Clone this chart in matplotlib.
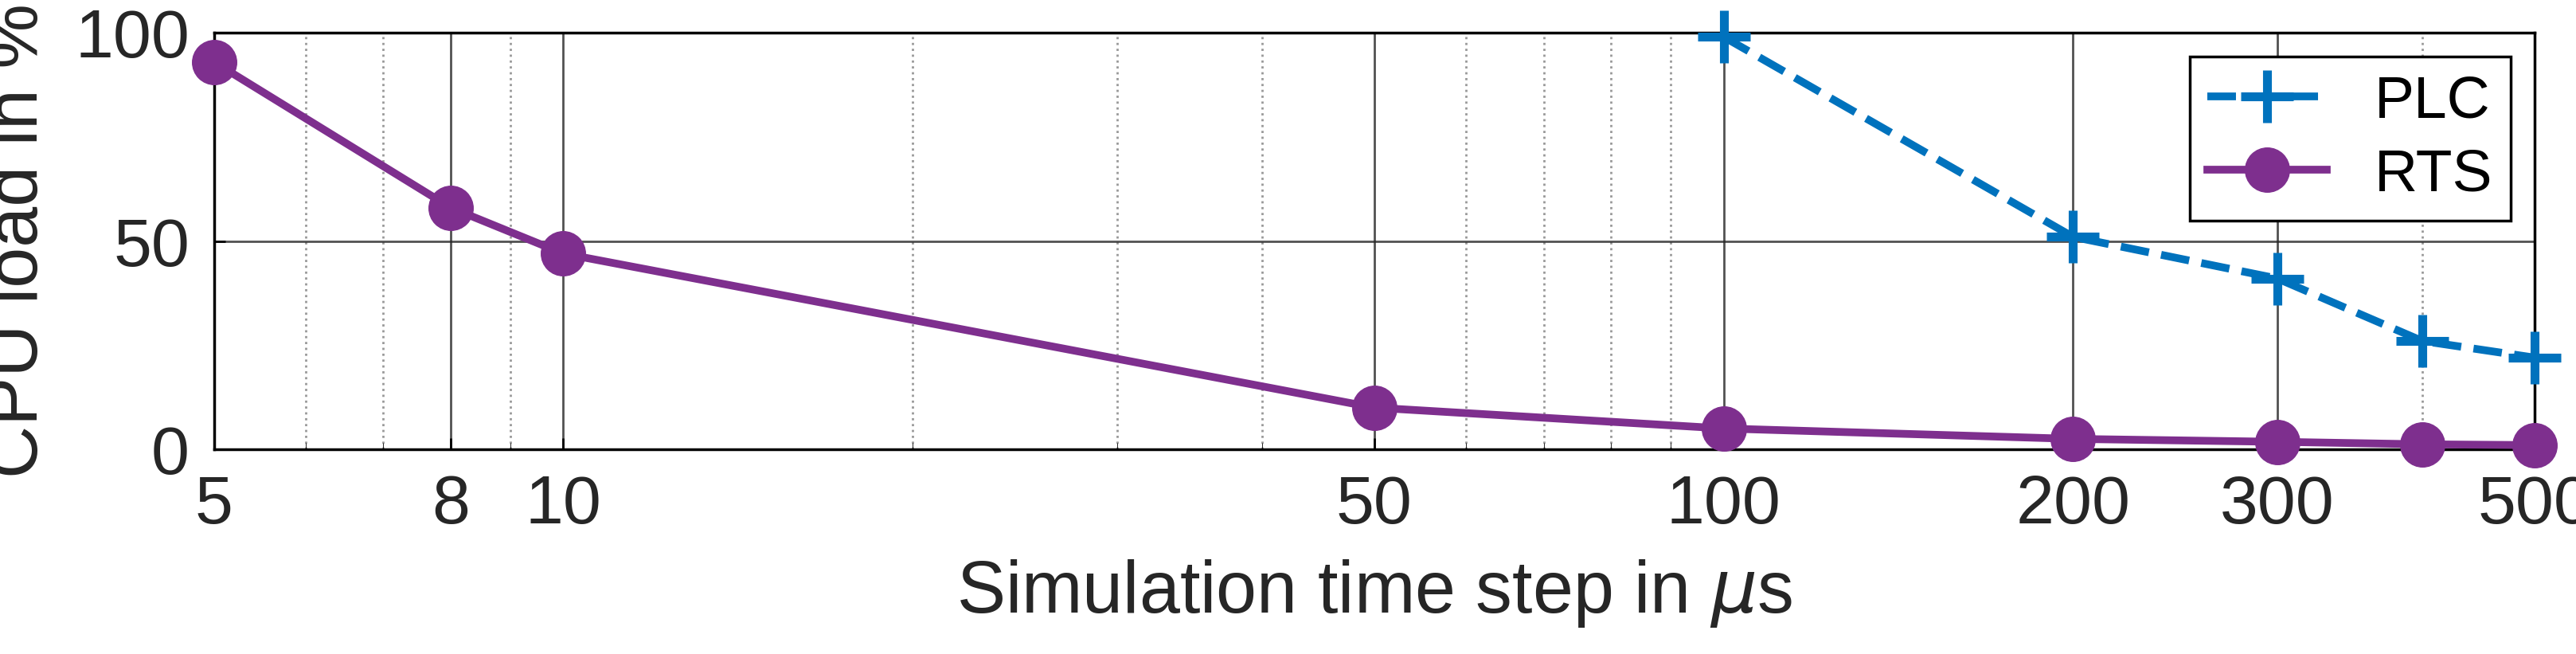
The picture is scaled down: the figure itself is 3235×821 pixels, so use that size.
import matplotlib
matplotlib.use("Agg")
import matplotlib.pyplot as plt
from matplotlib.ticker import FixedLocator, NullFormatter

plt.rcParams['font.family'] = ['Liberation Sans', 'DejaVu Sans']
plt.rcParams['mathtext.fontset'] = 'dejavusans'

# data
rts_x = [5, 8, 10, 50, 100, 200, 300, 400, 500]
rts_y = [93, 58, 47, 10, 5, 2.5, 1.8, 1.2, 1.0]
plc_x = [100, 200, 300, 400, 500]
plc_y = [99, 51, 41, 26, 22]
xticks = [5, 8, 10, 50, 100, 200, 300, 500]
minor_ticks = [6, 7, 9, 20, 30, 40, 60, 70, 80, 90, 400]

fig = plt.figure(figsize=(32.35, 8.21), dpi=100)
ax = fig.add_axes([0.083, 0.313, 0.901, 0.637])

ax.plot(plc_x, plc_y, '--', color='#0072BD', lw=7, marker='+', ms=48, mew=8,
        label='PLC', clip_on=False, zorder=3)
ax.plot(rts_x, rts_y, '-', color='#7E2F8E', lw=7, marker='o', ms=40,
        label='RTS', clip_on=False, zorder=3)

ax.set_xscale('log')
ax.set_xlim(5, 500)
ax.set_ylim(0, 100)
ax.xaxis.set_major_locator(FixedLocator(xticks))
ax.xaxis.set_major_formatter(plt.FixedFormatter([str(v) for v in xticks]))
ax.xaxis.set_minor_locator(FixedLocator(minor_ticks))
ax.xaxis.set_minor_formatter(NullFormatter())
ax.set_yticks([0, 50, 100])
ax.grid(True, which='major', color='#262626', lw=2, alpha=0.8)
ax.grid(True, which='minor', axis='x', color='#999999', ls=':', lw=2)
ax.tick_params(labelsize=62, width=2, length=10, direction='in', pad=22,
               labelcolor='#262626')
ax.tick_params(which='minor', length=6, direction='in')
for s in ax.spines.values():
    s.set_linewidth(2.5)

ax.set_xlabel(r'Simulation time step in $\mu$s', fontsize=66, color='#262626', labelpad=18)
ax.set_ylabel('CPU load in %', fontsize=66, color='#262626', labelpad=20)

leg = ax.legend(loc='upper right', fontsize=54, handlelength=2.0, fancybox=False,
                edgecolor='black', framealpha=1, borderpad=0.3, labelspacing=0.3,
                borderaxespad=0.4)
leg.get_frame().set_linewidth(2.5)

fig.savefig('out.png', dpi=100)
